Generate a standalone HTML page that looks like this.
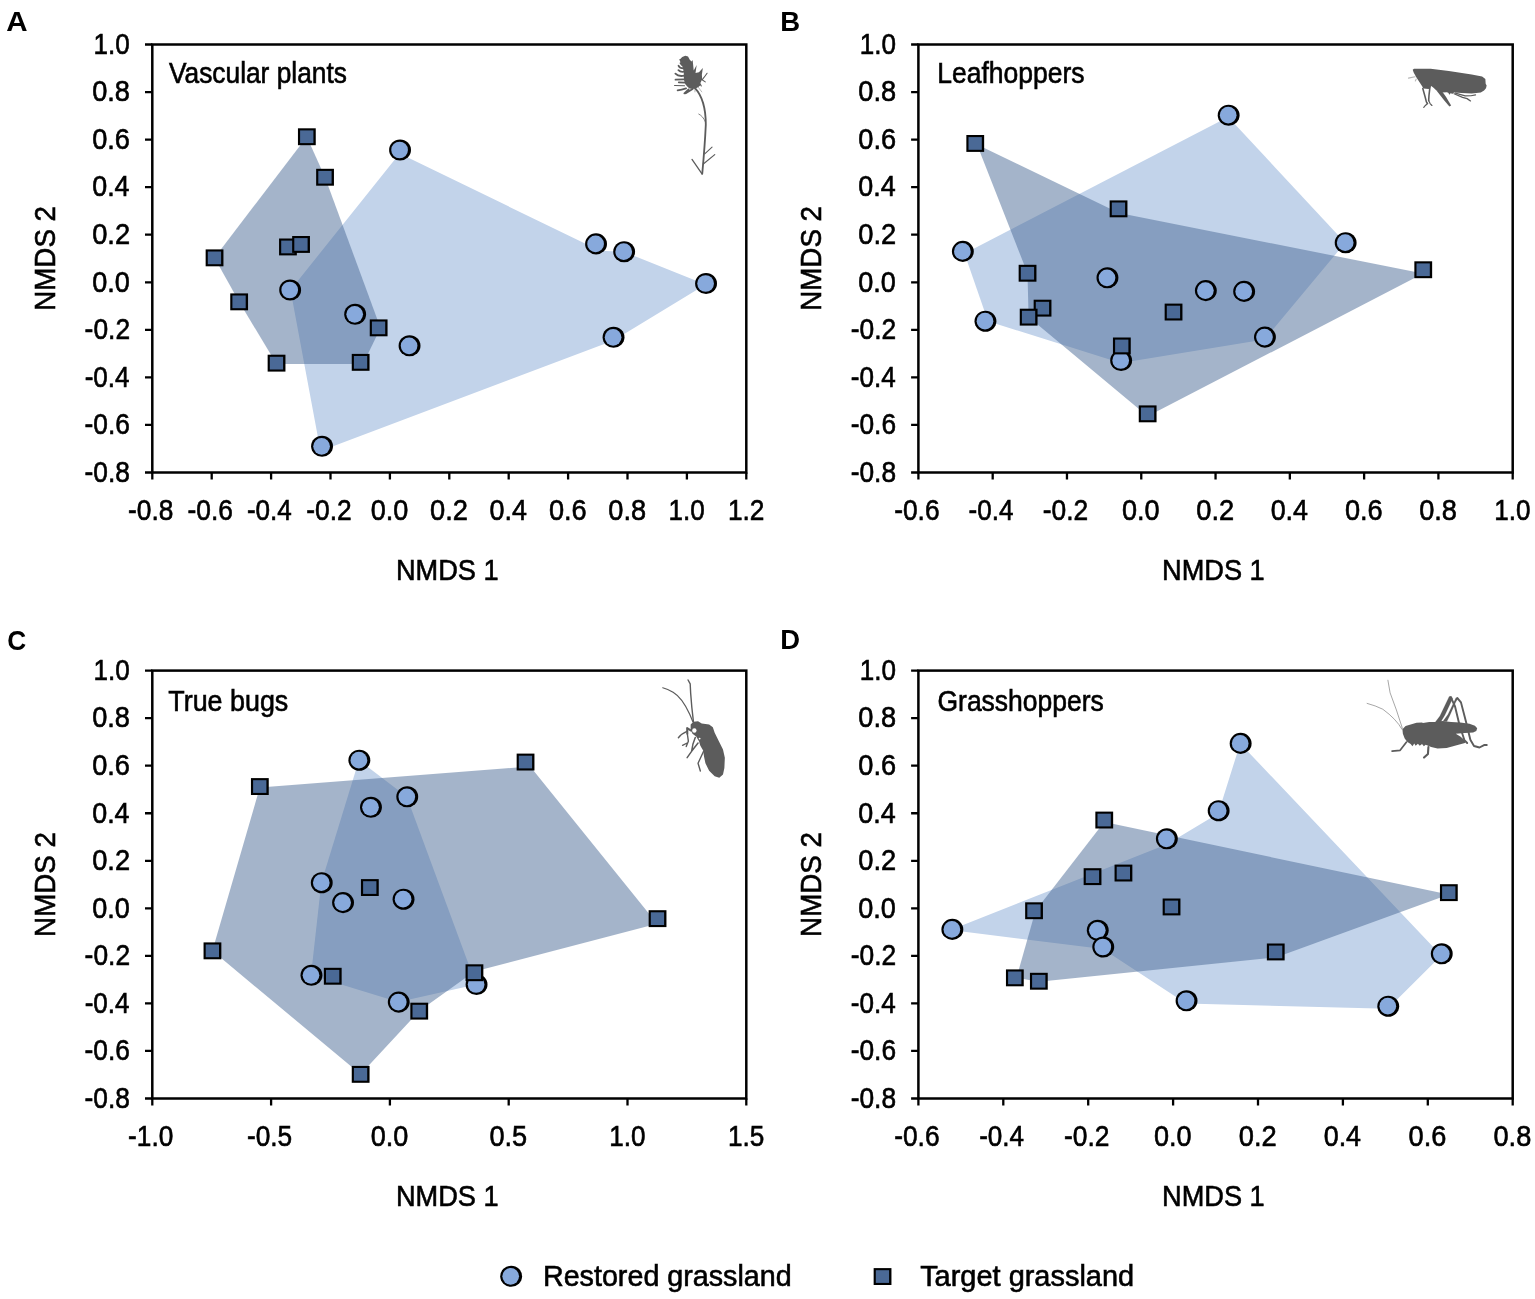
<!DOCTYPE html>
<html lang="en"><head><meta charset="utf-8"><title>NMDS ordination of restored and target grasslands</title>
<style>
html,body{margin:0;padding:0;background:#fff;}
svg{display:block;}
text{font-family:"Liberation Sans",Arial,Helvetica,sans-serif;fill:#000;stroke:#000;stroke-width:0.62px;}
text.b{stroke-width:0;}
</style></head><body>
<svg width="1535" height="1299" viewBox="0 0 1535 1299">
<rect width="1535" height="1299" fill="#fff"/>
<defs>
<g id="mc"><ellipse cx="0.45" cy="0" rx="10.95" ry="10.55" fill="#000"/><circle cx="0" cy="0" r="8.35" fill="#87a9dc"/></g>
<g id="ms"><rect x="-8.85" y="-8.4" width="17.8" height="16.9" fill="#000"/><rect x="-6.7" y="-6.3" width="13.3" height="12.7" fill="#4a6996"/></g>
</defs>
<g id="polyA">
<polygon points="290.5,290.0 399.6,153.5 600.0,250.8 623.7,251.7 705.6,284.5 613.5,340.5 320.5,451.0" fill="#c2d3ea"/>
<polygon points="214.5,257.8 306.8,136.7 325.0,177.2 380.5,328.0 363.0,364.0 276.5,364.0 239.1,301.8" fill="#4a6996" fill-opacity="0.5"/>
</g>
<g id="polyB">
<polygon points="964.5,253.5 1228.2,117.1 1345.2,242.7 1264.5,339.6 1120.7,363.0 988.0,321.2" fill="#c2d3ea"/>
<polygon points="977.0,144.5 1119.0,213.0 1423.2,273.5 1147.6,416.3 1028.6,317.1 1027.5,273.2" fill="#4a6996" fill-opacity="0.5"/>
</g>
<g id="polyC">
<polygon points="358.9,760.2 406.8,796.8 476.1,984.5 398.3,1002.1 311.0,975.3 321.3,882.7" fill="#c2d3ea"/>
<polygon points="212.4,950.8 259.8,787.6 530.2,766.5 657.1,923.7 474.4,971.5 419.2,1011.1 360.6,1074.3" fill="#4a6996" fill-opacity="0.5"/>
</g>
<g id="polyD">
<polygon points="950.5,930.0 1167.0,844.2 1218.2,813.5 1240.2,743.4 1441.3,955.5 1387.8,1008.8 1186.1,1003.4 1102.8,949.0" fill="#c2d3ea"/>
<polygon points="1016.5,977.8 1035.5,910.7 1104.2,822.0 1448.8,894.6 1275.7,957.4 1038.8,981.8" fill="#4a6996" fill-opacity="0.5"/>
</g>
<g id="axes">
<rect x="152.3" y="44.5" width="594.00" height="428.00" fill="none" stroke="#000" stroke-width="2.5"/>
<text transform="translate(128.12,520.30) scale(0.9132,1)" font-size="28.8">-0.8</text>
<text transform="translate(187.52,520.30) scale(0.9132,1)" font-size="28.8">-0.6</text>
<text transform="translate(246.93,520.30) scale(0.9049,1)" font-size="28.8">-0.4</text>
<text transform="translate(306.31,520.30) scale(0.9160,1)" font-size="28.8">-0.2</text>
<text transform="translate(370.68,520.30) scale(0.9400,1)" font-size="28.8">0.0</text>
<text transform="translate(430.08,520.30) scale(0.9472,1)" font-size="28.8">0.2</text>
<text transform="translate(489.49,520.30) scale(0.9329,1)" font-size="28.8">0.4</text>
<text transform="translate(548.88,520.30) scale(0.9436,1)" font-size="28.8">0.6</text>
<text transform="translate(608.28,520.30) scale(0.9436,1)" font-size="28.8">0.8</text>
<text transform="translate(668.55,520.30) scale(0.9051,1)" font-size="28.8">1.0</text>
<text transform="translate(727.93,520.30) scale(0.9122,1)" font-size="28.8">1.2</text>
<text transform="translate(93.55,53.80) scale(0.9051,1)" font-size="28.8">1.0</text>
<text transform="translate(92.18,101.36) scale(0.9436,1)" font-size="28.8">0.8</text>
<text transform="translate(92.18,148.91) scale(0.9436,1)" font-size="28.8">0.6</text>
<text transform="translate(92.19,196.47) scale(0.9329,1)" font-size="28.8">0.4</text>
<text transform="translate(92.18,244.02) scale(0.9472,1)" font-size="28.8">0.2</text>
<text transform="translate(92.18,291.58) scale(0.9400,1)" font-size="28.8">0.0</text>
<text transform="translate(84.61,339.13) scale(0.9160,1)" font-size="28.8">-0.2</text>
<text transform="translate(84.63,386.69) scale(0.9049,1)" font-size="28.8">-0.4</text>
<text transform="translate(84.62,434.24) scale(0.9132,1)" font-size="28.8">-0.6</text>
<text transform="translate(84.62,481.80) scale(0.9132,1)" font-size="28.8">-0.8</text>
<path d="M152.30,472.5v7 M211.70,472.5v7 M271.10,472.5v7 M330.50,472.5v7 M389.90,472.5v7 M449.30,472.5v7 M508.70,472.5v7 M568.10,472.5v7 M627.50,472.5v7 M686.90,472.5v7 M746.30,472.5v7 M152.3,44.50h-7.3 M152.3,92.06h-7.3 M152.3,139.61h-7.3 M152.3,187.17h-7.3 M152.3,234.72h-7.3 M152.3,282.28h-7.3 M152.3,329.83h-7.3 M152.3,377.39h-7.3 M152.3,424.94h-7.3 M152.3,472.50h-7.3" stroke="#000" stroke-width="2.3" fill="none"/>
<text transform="translate(395.96,579.60) scale(0.9210,1)" font-size="29.5">NMDS 1</text>
<text transform="translate(54.50,310.79) rotate(-90) scale(0.9414,1)" font-size="29.5">NMDS 2</text>
<rect x="918.4" y="44.5" width="594.30" height="428.00" fill="none" stroke="#000" stroke-width="2.5"/>
<text transform="translate(894.22,520.30) scale(0.9132,1)" font-size="28.8">-0.6</text>
<text transform="translate(968.51,520.30) scale(0.9049,1)" font-size="28.8">-0.4</text>
<text transform="translate(1042.79,520.30) scale(0.9160,1)" font-size="28.8">-0.2</text>
<text transform="translate(1122.05,520.30) scale(0.9400,1)" font-size="28.8">0.0</text>
<text transform="translate(1196.33,520.30) scale(0.9472,1)" font-size="28.8">0.2</text>
<text transform="translate(1270.63,520.30) scale(0.9329,1)" font-size="28.8">0.4</text>
<text transform="translate(1344.91,520.30) scale(0.9436,1)" font-size="28.8">0.6</text>
<text transform="translate(1419.19,520.30) scale(0.9436,1)" font-size="28.8">0.8</text>
<text transform="translate(1494.35,520.30) scale(0.9051,1)" font-size="28.8">1.0</text>
<text transform="translate(859.65,53.80) scale(0.9051,1)" font-size="28.8">1.0</text>
<text transform="translate(858.28,101.36) scale(0.9436,1)" font-size="28.8">0.8</text>
<text transform="translate(858.28,148.91) scale(0.9436,1)" font-size="28.8">0.6</text>
<text transform="translate(858.29,196.47) scale(0.9329,1)" font-size="28.8">0.4</text>
<text transform="translate(858.28,244.02) scale(0.9472,1)" font-size="28.8">0.2</text>
<text transform="translate(858.28,291.58) scale(0.9400,1)" font-size="28.8">0.0</text>
<text transform="translate(850.71,339.13) scale(0.9160,1)" font-size="28.8">-0.2</text>
<text transform="translate(850.73,386.69) scale(0.9049,1)" font-size="28.8">-0.4</text>
<text transform="translate(850.72,434.24) scale(0.9132,1)" font-size="28.8">-0.6</text>
<text transform="translate(850.72,481.80) scale(0.9132,1)" font-size="28.8">-0.8</text>
<path d="M918.40,472.5v7 M992.69,472.5v7 M1066.97,472.5v7 M1141.26,472.5v7 M1215.55,472.5v7 M1289.84,472.5v7 M1364.12,472.5v7 M1438.41,472.5v7 M1512.70,472.5v7 M918.4,44.50h-7.3 M918.4,92.06h-7.3 M918.4,139.61h-7.3 M918.4,187.17h-7.3 M918.4,234.72h-7.3 M918.4,282.28h-7.3 M918.4,329.83h-7.3 M918.4,377.39h-7.3 M918.4,424.94h-7.3 M918.4,472.50h-7.3" stroke="#000" stroke-width="2.3" fill="none"/>
<text transform="translate(1162.06,579.60) scale(0.9210,1)" font-size="29.5">NMDS 1</text>
<text transform="translate(820.60,310.79) rotate(-90) scale(0.9414,1)" font-size="29.5">NMDS 2</text>
<rect x="152.3" y="670.6" width="594.00" height="427.90" fill="none" stroke="#000" stroke-width="2.5"/>
<text transform="translate(128.12,1146.30) scale(0.9104,1)" font-size="28.8">-1.0</text>
<text transform="translate(246.92,1146.30) scale(0.9118,1)" font-size="28.8">-0.5</text>
<text transform="translate(370.68,1146.30) scale(0.9400,1)" font-size="28.8">0.0</text>
<text transform="translate(489.48,1146.30) scale(0.9418,1)" font-size="28.8">0.5</text>
<text transform="translate(609.15,1146.30) scale(0.9051,1)" font-size="28.8">1.0</text>
<text transform="translate(727.94,1146.30) scale(0.9069,1)" font-size="28.8">1.5</text>
<text transform="translate(93.55,679.90) scale(0.9051,1)" font-size="28.8">1.0</text>
<text transform="translate(92.18,727.44) scale(0.9436,1)" font-size="28.8">0.8</text>
<text transform="translate(92.18,774.99) scale(0.9436,1)" font-size="28.8">0.6</text>
<text transform="translate(92.19,822.53) scale(0.9329,1)" font-size="28.8">0.4</text>
<text transform="translate(92.18,870.08) scale(0.9472,1)" font-size="28.8">0.2</text>
<text transform="translate(92.18,917.62) scale(0.9400,1)" font-size="28.8">0.0</text>
<text transform="translate(84.61,965.17) scale(0.9160,1)" font-size="28.8">-0.2</text>
<text transform="translate(84.63,1012.71) scale(0.9049,1)" font-size="28.8">-0.4</text>
<text transform="translate(84.62,1060.26) scale(0.9132,1)" font-size="28.8">-0.6</text>
<text transform="translate(84.62,1107.80) scale(0.9132,1)" font-size="28.8">-0.8</text>
<path d="M152.30,1098.5v7 M271.10,1098.5v7 M389.90,1098.5v7 M508.70,1098.5v7 M627.50,1098.5v7 M746.30,1098.5v7 M152.3,670.60h-7.3 M152.3,718.14h-7.3 M152.3,765.69h-7.3 M152.3,813.23h-7.3 M152.3,860.78h-7.3 M152.3,908.32h-7.3 M152.3,955.87h-7.3 M152.3,1003.41h-7.3 M152.3,1050.96h-7.3 M152.3,1098.50h-7.3" stroke="#000" stroke-width="2.3" fill="none"/>
<text transform="translate(395.96,1205.70) scale(0.9210,1)" font-size="29.5">NMDS 1</text>
<text transform="translate(54.50,936.89) rotate(-90) scale(0.9414,1)" font-size="29.5">NMDS 2</text>
<rect x="918.4" y="670.6" width="594.30" height="427.90" fill="none" stroke="#000" stroke-width="2.5"/>
<text transform="translate(894.22,1146.30) scale(0.9132,1)" font-size="28.8">-0.6</text>
<text transform="translate(979.13,1146.30) scale(0.9049,1)" font-size="28.8">-0.4</text>
<text transform="translate(1064.01,1146.30) scale(0.9160,1)" font-size="28.8">-0.2</text>
<text transform="translate(1153.88,1146.30) scale(0.9400,1)" font-size="28.8">0.0</text>
<text transform="translate(1238.78,1146.30) scale(0.9472,1)" font-size="28.8">0.2</text>
<text transform="translate(1323.69,1146.30) scale(0.9329,1)" font-size="28.8">0.4</text>
<text transform="translate(1408.58,1146.30) scale(0.9436,1)" font-size="28.8">0.6</text>
<text transform="translate(1493.48,1146.30) scale(0.9436,1)" font-size="28.8">0.8</text>
<text transform="translate(859.65,679.90) scale(0.9051,1)" font-size="28.8">1.0</text>
<text transform="translate(858.28,727.44) scale(0.9436,1)" font-size="28.8">0.8</text>
<text transform="translate(858.28,774.99) scale(0.9436,1)" font-size="28.8">0.6</text>
<text transform="translate(858.29,822.53) scale(0.9329,1)" font-size="28.8">0.4</text>
<text transform="translate(858.28,870.08) scale(0.9472,1)" font-size="28.8">0.2</text>
<text transform="translate(858.28,917.62) scale(0.9400,1)" font-size="28.8">0.0</text>
<text transform="translate(850.71,965.17) scale(0.9160,1)" font-size="28.8">-0.2</text>
<text transform="translate(850.73,1012.71) scale(0.9049,1)" font-size="28.8">-0.4</text>
<text transform="translate(850.72,1060.26) scale(0.9132,1)" font-size="28.8">-0.6</text>
<text transform="translate(850.72,1107.80) scale(0.9132,1)" font-size="28.8">-0.8</text>
<path d="M918.40,1098.5v7 M1003.30,1098.5v7 M1088.20,1098.5v7 M1173.10,1098.5v7 M1258.00,1098.5v7 M1342.90,1098.5v7 M1427.80,1098.5v7 M1512.70,1098.5v7 M918.4,670.60h-7.3 M918.4,718.14h-7.3 M918.4,765.69h-7.3 M918.4,813.23h-7.3 M918.4,860.78h-7.3 M918.4,908.32h-7.3 M918.4,955.87h-7.3 M918.4,1003.41h-7.3 M918.4,1050.96h-7.3 M918.4,1098.50h-7.3" stroke="#000" stroke-width="2.3" fill="none"/>
<text transform="translate(1162.06,1205.70) scale(0.9210,1)" font-size="29.5">NMDS 1</text>
<text transform="translate(820.60,936.89) rotate(-90) scale(0.9414,1)" font-size="29.5">NMDS 2</text>
</g>
<g id="ptsA">
<use href="#mc" x="399.6" y="150.0"/>
<use href="#mc" x="289.7" y="290.0"/>
<use href="#mc" x="354.7" y="314.3"/>
<use href="#mc" x="409.1" y="345.8"/>
<use href="#mc" x="321.6" y="446.3"/>
<use href="#mc" x="595.6" y="243.9"/>
<use href="#mc" x="623.7" y="251.7"/>
<use href="#mc" x="705.6" y="283.5"/>
<use href="#mc" x="613.1" y="337.3"/>
<use href="#ms" x="214.5" y="257.8"/>
<use href="#ms" x="239.1" y="301.8"/>
<use href="#ms" x="276.5" y="363.1"/>
<use href="#ms" x="360.6" y="362.3"/>
<use href="#ms" x="378.6" y="327.8"/>
<use href="#ms" x="287.9" y="246.9"/>
<use href="#ms" x="301.0" y="244.4"/>
<use href="#ms" x="325.0" y="177.2"/>
<use href="#ms" x="306.8" y="136.7"/>
</g>
<g id="ptsB">
<use href="#mc" x="962.4" y="251.4"/>
<use href="#mc" x="1107.0" y="277.8"/>
<use href="#mc" x="1205.4" y="290.6"/>
<use href="#mc" x="985.0" y="321.2"/>
<use href="#mc" x="1228.2" y="115.2"/>
<use href="#mc" x="1345.2" y="242.7"/>
<use href="#mc" x="1243.7" y="291.4"/>
<use href="#mc" x="1264.5" y="337.1"/>
<use href="#mc" x="1120.7" y="360.5"/>
<use href="#ms" x="975.2" y="143.4"/>
<use href="#ms" x="1118.5" y="208.8"/>
<use href="#ms" x="1027.5" y="273.2"/>
<use href="#ms" x="1042.5" y="308.1"/>
<use href="#ms" x="1028.6" y="317.1"/>
<use href="#ms" x="1173.5" y="312.0"/>
<use href="#ms" x="1121.8" y="345.9"/>
<use href="#ms" x="1147.6" y="413.8"/>
<use href="#ms" x="1423.2" y="269.7"/>
</g>
<g id="ptsC">
<use href="#mc" x="358.9" y="760.2"/>
<use href="#mc" x="370.5" y="807.3"/>
<use href="#mc" x="406.8" y="796.8"/>
<use href="#mc" x="321.3" y="882.7"/>
<use href="#mc" x="342.6" y="902.6"/>
<use href="#mc" x="403.1" y="899.2"/>
<use href="#mc" x="311.0" y="975.3"/>
<use href="#mc" x="398.3" y="1002.1"/>
<use href="#mc" x="476.1" y="984.5"/>
<use href="#ms" x="259.8" y="786.5"/>
<use href="#ms" x="212.4" y="950.8"/>
<use href="#ms" x="369.8" y="887.5"/>
<use href="#ms" x="332.7" y="976.2"/>
<use href="#ms" x="419.2" y="1011.1"/>
<use href="#ms" x="360.6" y="1074.3"/>
<use href="#ms" x="474.4" y="972.7"/>
<use href="#ms" x="525.5" y="762.0"/>
<use href="#ms" x="657.5" y="918.6"/>
</g>
<g id="ptsD">
<use href="#mc" x="951.9" y="929.4"/>
<use href="#mc" x="1166.4" y="838.8"/>
<use href="#mc" x="1218.2" y="810.7"/>
<use href="#mc" x="1240.2" y="743.4"/>
<use href="#mc" x="1097.3" y="930.3"/>
<use href="#mc" x="1102.8" y="947.0"/>
<use href="#mc" x="1186.1" y="1000.8"/>
<use href="#mc" x="1387.8" y="1006.2"/>
<use href="#mc" x="1441.3" y="953.8"/>
<use href="#ms" x="1104.2" y="820.0"/>
<use href="#ms" x="1092.5" y="876.6"/>
<use href="#ms" x="1123.4" y="873.0"/>
<use href="#ms" x="1034.0" y="910.7"/>
<use href="#ms" x="1171.5" y="906.9"/>
<use href="#ms" x="1014.8" y="977.8"/>
<use href="#ms" x="1038.8" y="981.2"/>
<use href="#ms" x="1275.7" y="951.9"/>
<use href="#ms" x="1448.8" y="892.6"/>
</g>
<g id="titles">
<text transform="translate(168.97,82.60) scale(0.8890,1)" font-size="29.6">Vascular plants</text>
<text transform="translate(937.21,82.60) scale(0.8957,1)" font-size="29.6">Leafhoppers</text>
<text transform="translate(168.30,710.50) scale(0.9083,1)" font-size="29.6">True bugs</text>
<text transform="translate(937.48,710.50) scale(0.8949,1)" font-size="29.6">Grasshoppers</text>
<text transform="translate(6.26,31.30) scale(1.0406,1)" font-size="28.4" font-weight="bold" class="b">A</text>
<text transform="translate(780.24,31.30) scale(0.9698,1)" font-size="28.4" font-weight="bold" class="b">B</text>
<text transform="translate(7.15,649.70) scale(0.9246,1)" font-size="28.4" font-weight="bold" class="b">C</text>
<text transform="translate(780.25,649.40) scale(0.9658,1)" font-size="28.4" font-weight="bold" class="b">D</text>
</g>
<g id="legend">
<use href="#mc" x="510.7" y="1276.3"/>
<use href="#ms" x="882.5" y="1276.5"/>
<text transform="translate(542.93,1286.10) scale(0.9442,1)" font-size="30.4">Restored grassland</text>
<text transform="translate(920.15,1286.10) scale(0.9525,1)" font-size="30.4">Target grassland</text>
</g>
<g id="icon-plant" fill="#5c5c5c" stroke="#5c5c5c" stroke-linecap="round" stroke-linejoin="round">
<g transform="translate(668,50) scale(0.03849)">
<path stroke="none" d="M450,150 L520,170 L570,260 L615,300 L640,262 L655,400 L668,530 L745,392 L715,600 L805,575 L905,468 L880,640 L888,760 L842,860 L858,905 L790,960 L720,1000 L640,1012 L560,1000 L500,950 L450,890 L420,800 L410,700 L410,600 L395,500 L370,420 L325,330 L312,240 L370,180 Z"/>
<path fill="none" stroke-width="46" d="M400,480 Q305,480 272,408 M410,565 Q325,580 270,525 M430,665 Q275,700 192,615 M430,762 L195,772 M440,850 L280,842 M470,995 Q350,1035 250,1048 M535,1025 L425,1125 M640,1015 L460,1125 M350,300 L318,255 M360,385 L325,345"/>
<path fill="none" stroke-width="28" d="M430,930 L170,922 M1015,605 Q950,700 885,775 M875,765 L968,828 M845,900 L865,935"/>
<path fill="none" stroke-width="24" stroke-opacity="0.45" d="M785,965 L878,1088 M700,1010 L700,1088"/>
</g>
<g transform="translate(660,45) scale(0.10776)">
<path fill="none" stroke-width="17" d="M325,400 C390,470 425,600 425,740 C420,850 410,1000 392,1195"/>
<path fill="none" stroke-width="12" d="M390,1195 L297,1062"/>
<path fill="none" stroke-width="11" d="M402,1105 L508,1017"/>
<path fill="none" stroke-width="10" d="M415,1010 L483,947"/>
<path fill="none" stroke-width="7" d="M422,715 Q400,660 360,641"/>
</g>
</g>
<g id="icon-leafhopper" transform="translate(1400,55) scale(0.06515)" fill="#5c5c5c" stroke="#5c5c5c" stroke-linecap="round" stroke-linejoin="round">
<path stroke="none" d="M195,225 L215,210 L470,212 L750,245 L1100,300 L1260,330 L1310,370 L1315,440 L1330,470 L1320,510 L1290,545 L1240,575 L1100,590 L950,585 L830,575 L800,600 L780,585 L760,610 L740,580 L720,570 L640,575 L560,545 L510,500 L480,475 L465,500 L440,520 L360,515 L340,480 L300,420 L250,340 L210,270 Z"/>
<path fill="none" stroke-width="24" d="M350,515 L385,640 L405,720 L422,745"/>
<path fill="none" stroke-width="18" d="M422,745 L390,775 L365,805"/>
<path fill="none" stroke-width="24" d="M460,490 L445,620 L440,700"/>
<path fill="none" stroke-width="18" d="M440,700 L462,745 L490,775"/>
<path stroke="none" d="M560,545 L650,565 L705,640 L785,775 L758,790 L680,700 Z"/>
<path fill="none" stroke-width="20" d="M830,595 L960,650 L1030,670 L1082,705"/>
<path fill="none" stroke-width="18" d="M850,585 L1000,628 L1090,625 L1160,612"/>
<path fill="none" stroke-width="16" stroke-opacity="0.45" d="M230,335 L130,355 M250,370 L235,400"/>
</g>
<g id="icon-truebug" transform="translate(650,670) scale(0.0924)" fill="#5c5c5c" stroke="#5c5c5c" stroke-linecap="round" stroke-linejoin="round">
<path stroke="none" d="M440,590 L470,560 L520,555 L560,580 L640,590 L680,620 L700,680 L740,760 L790,860 L810,950 L805,1060 L790,1130 L750,1165 L700,1150 L640,1090 L600,1010 L585,940 L575,870 L545,820 L530,770 L500,720 L460,690 L440,650 Z"/>
<circle cx="480" cy="655" r="24" fill="#fff" stroke="none"/>
<circle cx="537" cy="742" r="10" fill="#fff" stroke="none"/>
<path fill="none" stroke-width="13" d="M465,562 L430,480 Q350,300 250,240 Q190,205 138,192"/>
<path fill="none" stroke-width="15" d="M470,558 Q450,400 440,250 L435,150 L412,108"/>
<path fill="none" stroke-width="22" d="M445,655 L402,628 L404,690"/>
<path fill="none" stroke-width="15" d="M404,690 L415,770 L392,828 M402,790 L352,815 M405,662 Q340,690 307,733"/>
<path fill="none" stroke-width="16" d="M490,730 L465,800 L450,880 M520,790 L450,880 L402,948"/>
<path fill="none" stroke-width="15" d="M580,880 L520,1010 L545,1093"/>
</g>
<g id="icon-grasshopper" transform="translate(1360,670) scale(0.09121)" fill="#5c5c5c" stroke="#5c5c5c" stroke-linecap="round" stroke-linejoin="round">
<path stroke="none" d="M465,650 L500,615 L620,578 L680,575 L690,580 L760,570 L830,570 L900,560 L1000,570 L1100,575 L1200,590 L1260,610 L1285,640 L1275,670 L1240,685 L1150,690 L1050,700 L1100,730 L1160,780 L1150,800 L1080,820 L950,855 L850,860 L780,845 L720,820 L700,835 L680,812 L655,830 L635,808 L610,830 L595,805 L575,835 L555,812 L520,790 L490,750 L470,700 Z"/>
<path stroke-width="2" d="M818,580 L876,505 L978,290 L1003,290 L1016,312 L930,495 L892,558 L870,588 Z"/>
<path stroke-width="2" d="M908,566 L964,488 L1052,305 L1078,308 L1050,352 L986,495 L952,566 Z"/>
<path fill="none" stroke-width="21" d="M995,298 L1042,400 L1090,600 L1145,770 L1175,800"/>
<path fill="none" stroke-width="21" d="M1068,308 L1107,355 L1160,560 L1210,765 L1250,833 L1310,850 L1360,823 L1390,822"/>
<path fill="none" stroke-width="19" d="M510,790 L440,880 L352,890"/>
<path fill="none" stroke-width="23" d="M750,845 L745,920 L702,960"/>
<path fill="none" stroke-width="8" stroke-opacity="0.75" d="M460,650 Q400,540 250,430 Q170,390 78,366 M465,640 Q400,430 330,250 L306,112"/>
</g>

</svg></body></html>
